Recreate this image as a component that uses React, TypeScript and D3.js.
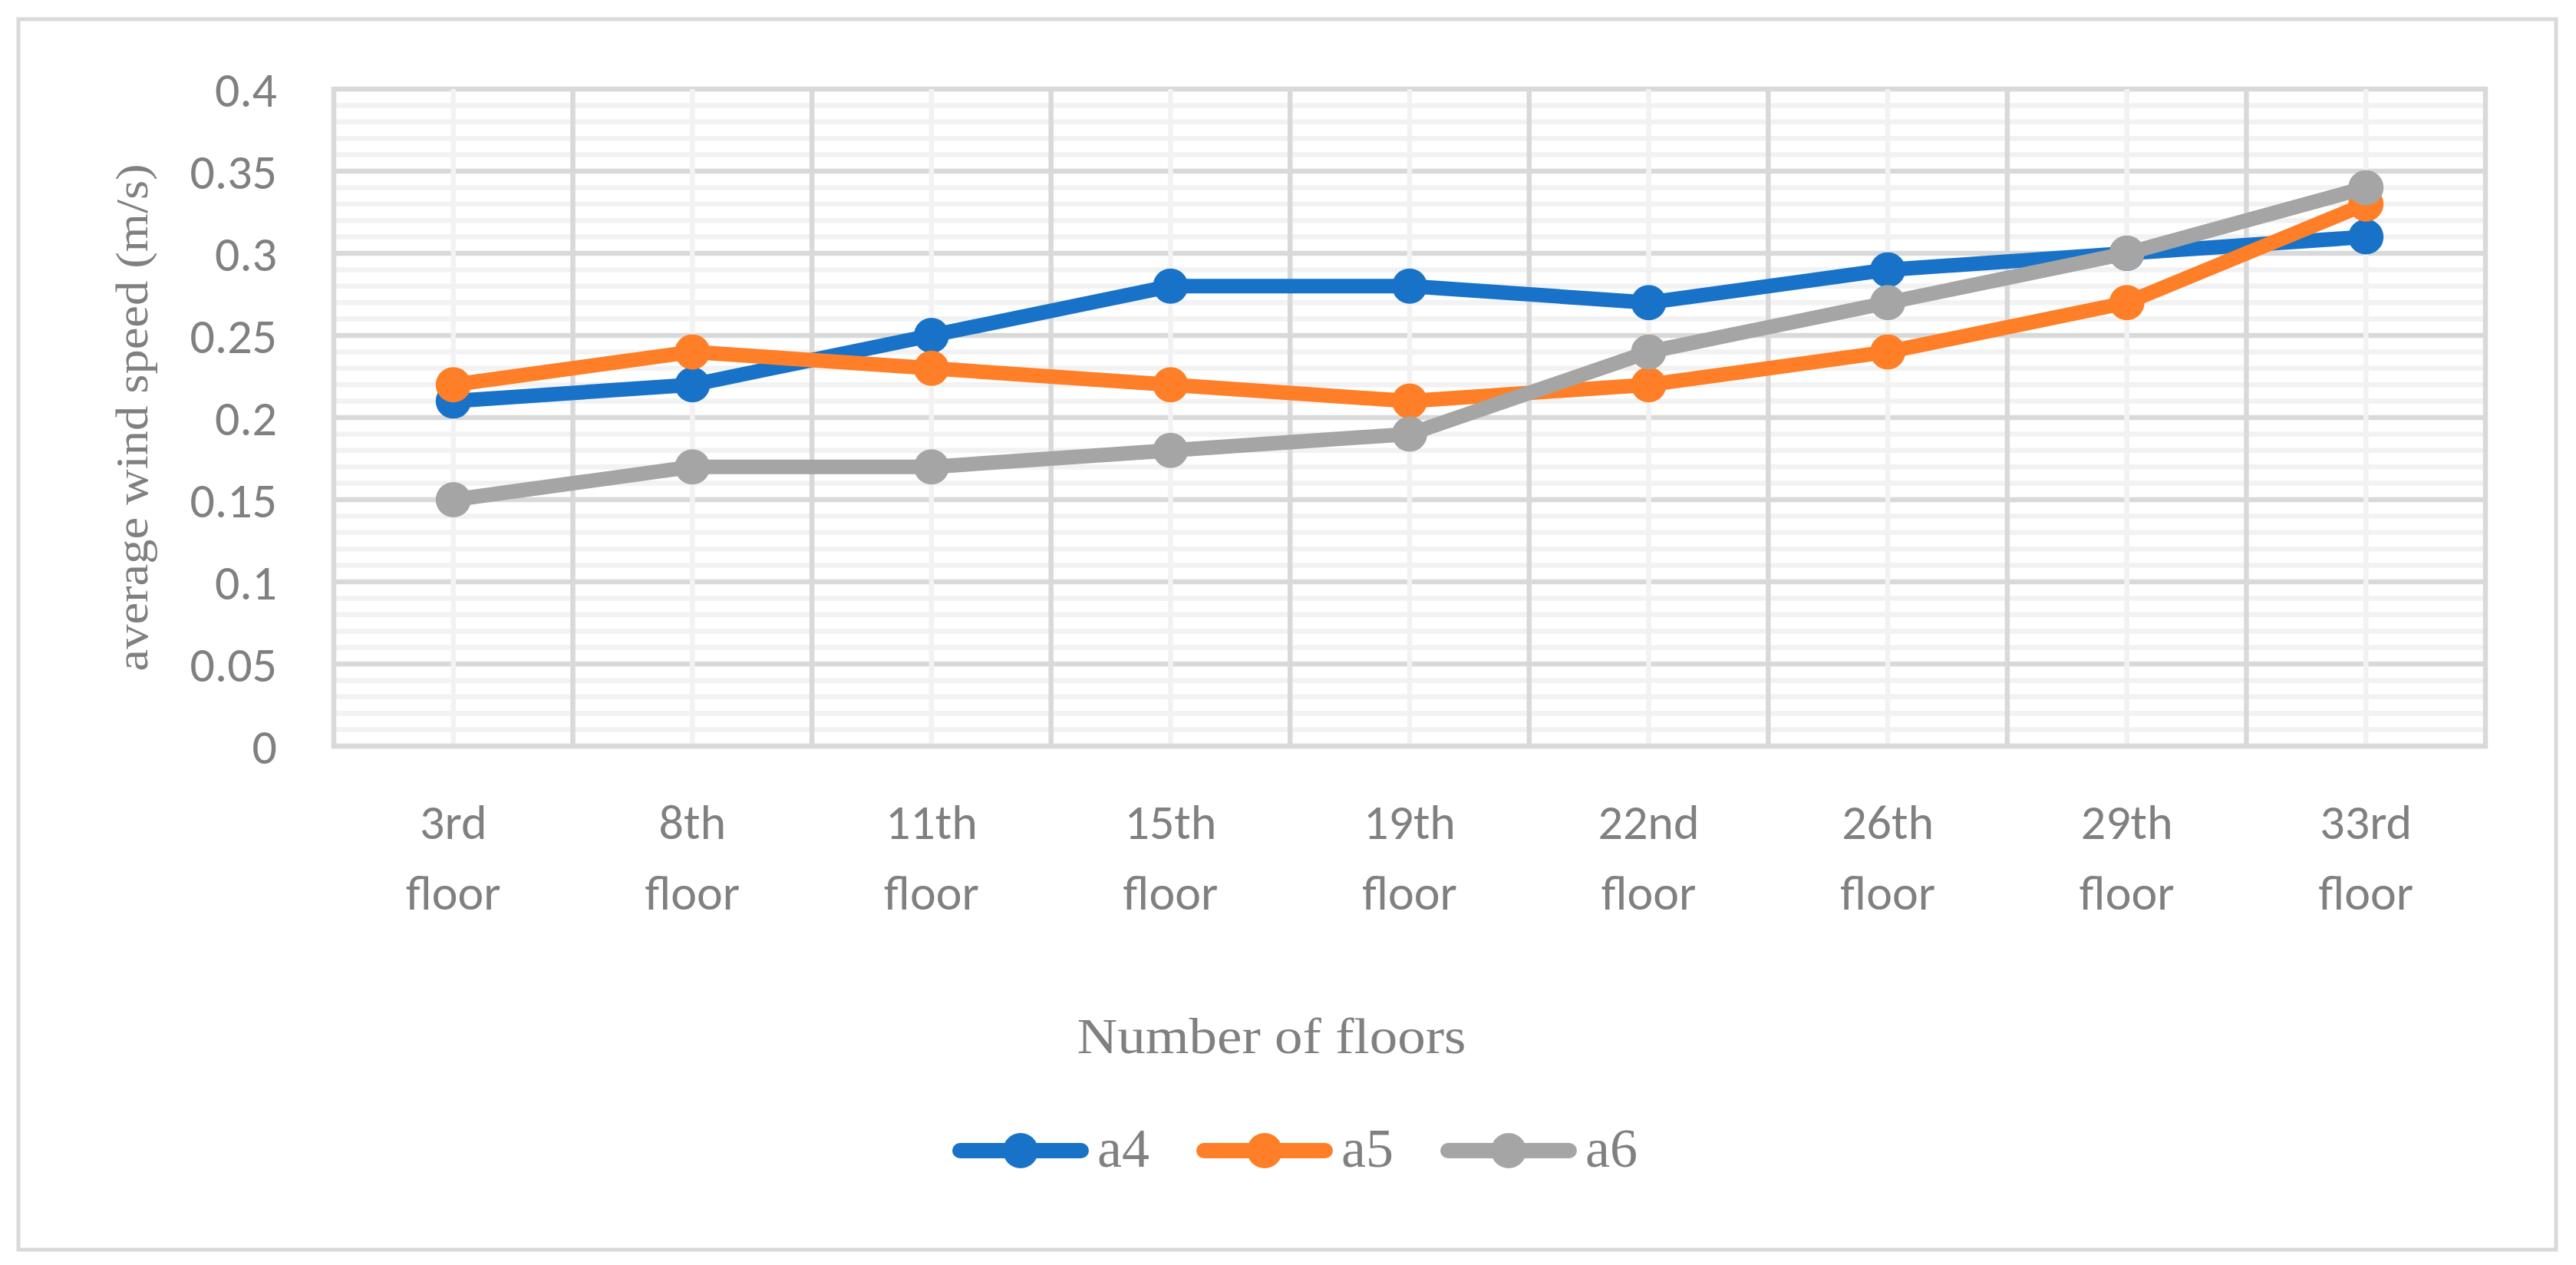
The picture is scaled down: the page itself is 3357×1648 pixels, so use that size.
import React from "react";
import * as d3 from "d3";

const categories = ["3rd floor", "8th floor", "11th floor", "15th floor", "19th floor", "22nd floor", "26th floor", "29th floor", "33rd floor"];
const a4 = [0.21, 0.22, 0.25, 0.28, 0.28, 0.27, 0.29, 0.30, 0.31];
const a5 = [0.22, 0.24, 0.23, 0.22, 0.21, 0.22, 0.24, 0.27, 0.33];
const a6 = [0.15, 0.17, 0.17, 0.18, 0.19, 0.24, 0.27, 0.30, 0.34];
const seriesNames = ["a4", "a5", "a6"];
const seriesColors = ["#1873C8", "#FE7F27", "#A5A5A5"];
const yTickValues = [0, 0.05, 0.1, 0.15, 0.2, 0.25, 0.3, 0.35, 0.4];
const yTickLabels = ["0", "0.05", "0.1", "0.15", "0.2", "0.25", "0.3", "0.35", "0.4"];
const yMinorStep = 0.01;
const yTitle = "average wind speed (m/s)";
const xTitle = "Number of floors";

const W = 3357;
const H = 1648;
const plot = { left: 435, right: 3239, top: 116, bottom: 972 };
const sans = "Carlito, Calibri, Lato, 'Open Sans', sans-serif";
const serif = "'Palatino Linotype', 'Book Antiqua', Palatino, 'Liberation Serif', serif";
const textColor = "#808080";

export default function App() {
  const x = d3.scaleBand<string>().domain(categories).range([plot.left, plot.right]).padding(0);
  const y = d3.scaleLinear().domain([0, 0.4]).range([plot.bottom, plot.top]);
  const cx = (c: string) => (x(c) as number) + x.bandwidth() / 2;

  const minorVals = d3.range(0, 40 + 1).map((i) => i * yMinorStep).filter((v) => Math.round(v * 100) % 5 !== 0);
  const boundaries = categories.map((c) => x(c) as number).concat([plot.right]);

  const data = [a4, a5, a6];
  const line = d3
    .line<number>()
    .x((_, i) => cx(categories[i]))
    .y((d) => y(d));

  const legendStart = 1241;
  const legendStep = 318;
  const legendLineLen = 178;
  const legendY = 1499;

  return (
    <svg width={W} height={H} style={{ position: "absolute", left: 0, top: 0, background: "#fff" }}>
      <rect x={0} y={0} width={W} height={H} fill="#fff" />
      <rect x={24} y={25} width={3307} height={1603} fill="#fff" stroke="#D9D9D9" strokeWidth={5} />

      {minorVals.map((v, i) => (
        <line key={"hm" + i} x1={plot.left} x2={plot.right} y1={y(v)} y2={y(v)} stroke="#F2F2F2" strokeWidth={6.5} />
      ))}
      {yTickValues.map((v, i) => (
        <line key={"hM" + i} x1={plot.left} x2={plot.right} y1={y(v)} y2={y(v)} stroke="#D9D9D9" strokeWidth={6.5} />
      ))}
      {categories.map((c, i) => (
        <line key={"vm" + i} x1={cx(c)} x2={cx(c)} y1={plot.top} y2={plot.bottom} stroke="#F2F2F2" strokeWidth={6.5} />
      ))}
      {boundaries.map((b, i) => (
        <line key={"vM" + i} x1={b} x2={b} y1={plot.top - 3} y2={plot.bottom + 3} stroke="#D9D9D9" strokeWidth={6.5} />
      ))}
      <line x1={plot.left - 3} x2={plot.right + 3} y1={plot.bottom} y2={plot.bottom} stroke="#D9D9D9" strokeWidth={6.5} />

      {yTickValues.map((v, i) => (
        <text key={"yl" + i} x={361} y={y(v)} dy="0.36em" textAnchor="end" fontFamily={sans} fontSize={64} fill={textColor}>
          {yTickLabels[i]}
        </text>
      ))}

      {categories.map((c, i) => {
        const parts = c.split(" ");
        return (
          <text key={"xl" + i} x={cx(c)} textAnchor="middle" fontFamily={sans} fontSize={64} fill={textColor}>
            <tspan x={cx(c)} y={1093}>{parts[0]}</tspan>
            <tspan x={cx(c)} y={1185}>{parts[1]}</tspan>
          </text>
        );
      })}

      <text
        transform={`translate(192, ${(plot.top + plot.bottom) / 2}) rotate(-90)`}
        textAnchor="middle"
        fontFamily={serif}
        fontSize={60}
        fill={textColor}
        textLength={661}
        lengthAdjust="spacingAndGlyphs"
      >
        {yTitle}
      </text>
      <text x={1657} y={1372} textAnchor="middle" fontFamily={serif} fontSize={66} fill={textColor} textLength={507} lengthAdjust="spacingAndGlyphs">
        {xTitle}
      </text>

      {data.map((s, si) => (
        <g key={"s" + si}>
          <path d={line(s) as string} fill="none" stroke={seriesColors[si]} strokeWidth={19} strokeLinejoin="round" strokeLinecap="round" />
          {s.map((v, i) => (
            <circle key={i} cx={cx(categories[i])} cy={y(v)} r={23} fill={seriesColors[si]} />
          ))}
        </g>
      ))}

      {seriesNames.map((n, i) => {
        const lx = legendStart + i * legendStep;
        return (
          <g key={"lg" + i}>
            <line x1={lx + 10} x2={lx + legendLineLen - 10} y1={legendY} y2={legendY} stroke={seriesColors[i]} strokeWidth={20} strokeLinecap="round" />
            <circle cx={lx + legendLineLen / 2} cy={legendY} r={23} fill={seriesColors[i]} />
            <text x={lx + legendLineLen + 11} y={1520} fontFamily={serif} fontSize={72} fill={textColor}>
              {n}
            </text>
          </g>
        );
      })}
    </svg>
  );
}
